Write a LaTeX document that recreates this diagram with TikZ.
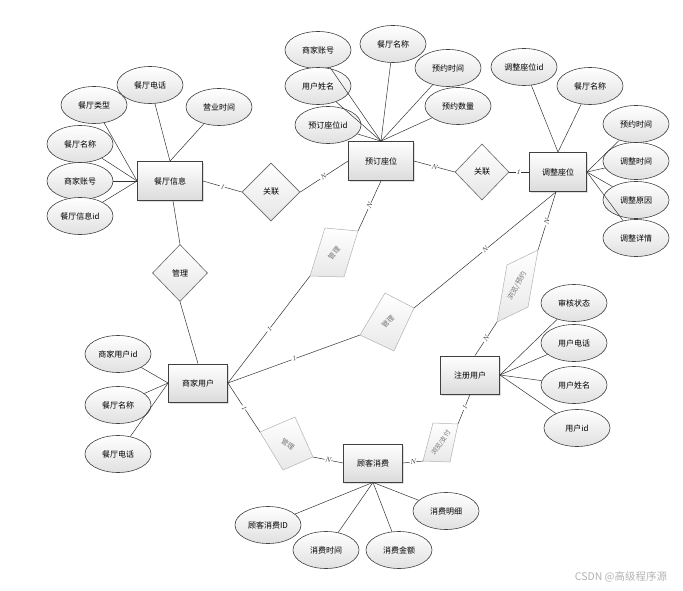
\documentclass[tikz,border=0pt]{standalone}
\usepackage{fontspec}
\newfontfamily\cjk{Noto Sans CJK SC}
\usetikzlibrary{shapes.geometric,shadows}
\begin{document}
\begin{tikzpicture}[x=1pt,y=-1pt,
  txt/.style={font=\cjk\fontsize{8}{9}\selectfont},
  ent/.style={txt, rectangle, draw=black!75, line width=0.8pt, top color=white, bottom color=black!14,
    minimum width=59pt, minimum height=38pt, inner sep=1pt,
    drop shadow={shadow xshift=1.5pt, shadow yshift=-1.5pt, opacity=0.25}},
  attr/.style={txt, ellipse, draw=black!75, line width=0.6pt, top color=white, bottom color=black!12,
    minimum width=66pt, minimum height=37pt, inner sep=0pt},
  rel/.style={txt, diamond, draw=black!60, line width=0.6pt, top color=white, bottom color=black!10,
    minimum width=56pt, minimum height=57pt, inner sep=0pt},
  tilt/.style={draw=black!30, line width=0.5pt, top color=white, bottom color=black!9},
  tlt/.style={font=\cjk\fontsize{7}{8}\selectfont, text=black!55, inner sep=0pt},
  conn/.style={draw=black!80, line width=0.5pt},
  lbl/.style={font=\fontsize{7}{7}\selectfont\itshape, text=black!80, fill=white, inner sep=0.4pt, sloped},
  wm/.style={font=\cjk\fontsize{10.5}{12}\selectfont, text=black!30}
]
\useasboundingbox (0,0) rectangle (683,591);

% entities
\node[ent, minimum width=65pt, minimum height=39pt] (eat) at (170,181) {餐厅信息};
\node[ent, minimum width=65pt, minimum height=39pt] (yd) at (381,161) {预订座位};
\node[ent, minimum width=57pt, minimum height=39pt] (tz) at (558,172) {调整座位};
\node[ent] (sj) at (198,383) {商家用户};
\node[ent] (zc) at (470,375) {注册用户};
\node[ent] (gk) at (373,463) {顾客消费};

% attributes of 餐厅信息
\node[attr] (a1) at (94,105) {餐厅类型};
\node[attr] (a2) at (150,85) {餐厅电话};
\node[attr] (a3) at (219,107) {营业时间};
\node[attr] (a4) at (80,144) {餐厅名称};
\node[attr] (a5) at (80,181) {商家账号};
\node[attr] (a6) at (80,216) {餐厅信息id};
\draw[conn] (a1) -- (eat.west);
\draw[conn] (a4) -- (eat.west);
\draw[conn] (a5) -- (eat.west);
\draw[conn] (a6) -- (eat.west);
\draw[conn] (a2) -- (eat.north);
\draw[conn] (a3) -- (eat.north);

% attributes of 预订座位
\node[attr] (b1) at (318,50) {商家账号};
\node[attr] (b2) at (393,44) {餐厅名称};
\node[attr] (b3) at (448,68) {预约时间};
\node[attr] (b4) at (318,86) {用户姓名};
\node[attr] (b5) at (458,106) {预约数量};
\node[attr] (b6) at (328,125) {预订座位id};
\foreach \n in {b1,b2,b3,b4,b5,b6} \draw[conn] (\n) -- (yd.north);

% attributes of 调整座位
\node[attr] (c1) at (524,67) {调整座位id};
\node[attr] (c2) at (590,86) {餐厅名称};
\node[attr] (c3) at (636,124) {预约时间};
\node[attr] (c4) at (636,161) {调整时间};
\node[attr] (c5) at (636,200) {调整原因};
\node[attr] (c6) at (636,238) {调整详情};
\draw[conn] (c1) -- (tz.north);
\draw[conn] (c2) -- (tz.north);
\foreach \n in {c3,c4,c5,c6} \draw[conn] (\n) -- (tz.east);

% attributes of 商家用户
\node[attr] (d1) at (118,354) {商家用户id};
\node[attr] (d2) at (118,405) {餐厅名称};
\node[attr] (d3) at (118,454) {餐厅电话};
\foreach \n in {d1,d2,d3} \draw[conn] (\n) -- (sj.west);

% attributes of 注册用户
\node[attr] (e1) at (574,303) {审核状态};
\node[attr] (e2) at (574,343) {用户电话};
\node[attr] (e3) at (574,385) {用户姓名};
\node[attr] (e4) at (577,428) {用户id};
\foreach \n in {e1,e2,e3,e4} \draw[conn] (\n) -- (zc.east);

% attributes of 顾客消费
\node[attr] (f1) at (268,525) {顾客消费ID};
\node[attr] (f2) at (326,550) {消费时间};
\node[attr] (f3) at (399,550) {消费金额};
\node[attr] (f4) at (446,511) {消费明细};
\foreach \n in {f1,f2,f3,f4} \draw[conn] (\n) -- (gk.south);

% normal relationships
\node[rel, minimum width=58pt, minimum height=58pt] (rl) at (271,192) {关联};
\node[rel, minimum width=54pt, minimum height=56pt] (rr) at (482,172) {关联};
\node[rel, minimum width=55pt, minimum height=57pt] (rv) at (180,273) {管理};

\draw[conn] (eat.east) -- node[lbl, pos=0.5] {1} (rl.west);
\draw[conn] (rl.east) -- node[lbl, pos=0.48] {N} (yd.west);
\draw[conn] (yd.east) -- node[lbl, pos=0.5] {N} (rr.west);
\draw[conn] (rr.east) -- node[lbl, pos=0.45] {1} (tz.west);
\draw[conn] ([xshift=3pt]eat.south) -- (rv.north);
\draw[conn] (rv.south) -- (sj.north);

% tilted relationship shapes
% M1 管理 (商家用户 - 预订座位)
\coordinate (m1a) at (325,228); \coordinate (m1b) at (358,231);
\coordinate (m1c) at (344,277); \coordinate (m1d) at (310,276);
\draw[tilt] (m1a) -- (m1b) -- (m1c) -- (m1d) -- cycle;
\node[tlt, rotate=50] (m1) at (334,253) {管理};
% M2 管理 (商家用户 - 调整座位)
\coordinate (m2a) at (385,293); \coordinate (m2b) at (414,308);
\coordinate (m2c) at (394,351); \coordinate (m2d) at (360,335);
\draw[tilt] (m2a) -- (m2b) -- (m2c) -- (m2d) -- cycle;
\node[tlt, rotate=45] (m2) at (388,322) {管理};
% M3 浏览/预约
\coordinate (m3a) at (507,265); \coordinate (m3b) at (538,250);
\coordinate (m3c) at (528,307); \coordinate (m3d) at (497,322);
\draw[tilt] (m3a) -- (m3b) -- (m3c) -- (m3d) -- cycle;
\node[tlt, rotate=60] (m3) at (517,286) {浏览/预约};
% M4 浏览/支付
\coordinate (m4a) at (433,423); \coordinate (m4b) at (458,424);
\coordinate (m4c) at (450,462); \coordinate (m4d) at (423,461);
\draw[tilt] (m4a) -- (m4b) -- (m4c) -- (m4d) -- cycle;
\node[tlt, rotate=55, font=\cjk\fontsize{6.5}{7}\selectfont] (m4) at (441,443) {浏览/支付};
% M5 管理 (商家用户 - 顾客消费)
\coordinate (m5a) at (260,432); \coordinate (m5b) at (295,417);
\coordinate (m5c) at (313,457); \coordinate (m5d) at (283,470);
\draw[tilt] (m5a) -- (m5b) -- (m5c) -- (m5d) -- cycle;
\node[tlt, rotate=-35] (m5) at (288,444) {管理};

% connectors through tilted shapes
\draw[conn] (yd.south) -- node[lbl, pos=0.5] {N} (m1b);
\draw[conn] (m1d) -- node[lbl, pos=0.5] {1} (sj.east);
\draw[conn] (sj.east) -- node[lbl, pos=0.5] {1} (m2d);
\draw[conn] (m2b) -- node[lbl, pos=0.5] {N} ([xshift=-2pt]tz.south);
\draw[conn] ([xshift=5pt]zc.north) -- node[lbl, pos=0.5] {N} (m3d);
\draw[conn] (m3b) -- node[lbl, pos=0.48] {N} ([xshift=-2pt]tz.south);
\draw[conn] (zc.south) -- node[lbl, pos=0.45] {1} (m4b);
\draw[conn] (m4d) -- node[lbl, pos=0.5] {N} (gk.east);
\draw[conn] (sj.east) -- node[lbl, pos=0.5] {1} (m5a);
\draw[conn] (m5c) -- node[lbl, pos=0.5] {N} (gk.west);

% watermark
\node[wm] (wmk) at (621,577) {CSDN @高级程序源};
\end{tikzpicture}
\end{document}
